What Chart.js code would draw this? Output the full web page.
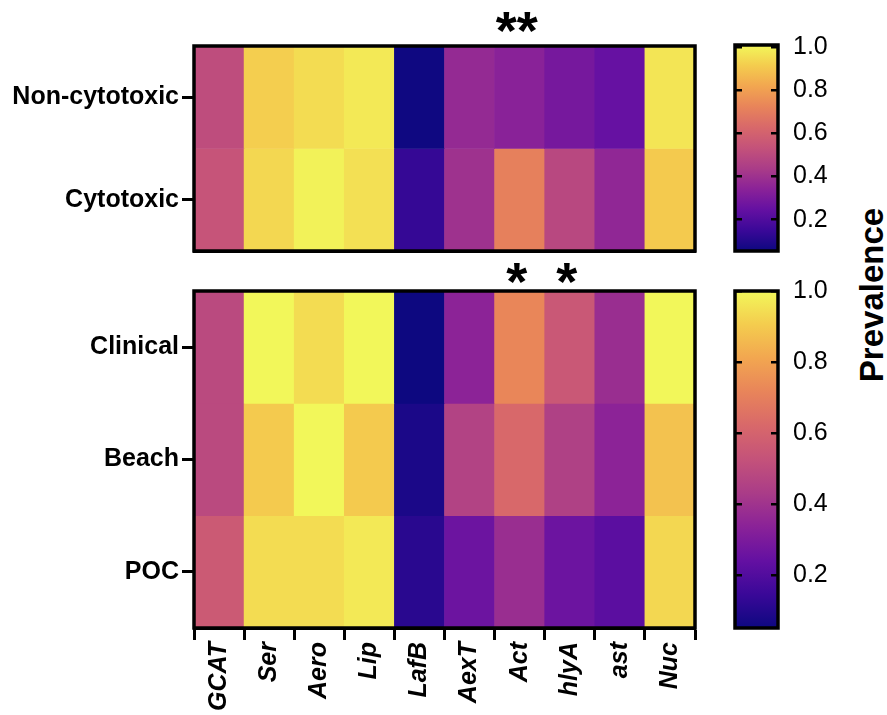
<!DOCTYPE html>
<html>
<head>
<meta charset="utf-8">
<script src="https://cdn.jsdelivr.net/npm/chart.js@4.4.1/dist/chart.umd.min.js"></script>
<style>
  body { margin: 0; background: #fff; }
  #wrap { position: relative; width: 887px; height: 715px; overflow: hidden; font-family: "Liberation Sans", Arial, sans-serif; }
  .box { position: absolute; }
  #prev { position: absolute; left: 872px; top: 295px; transform: translate(-50%, -50%) rotate(-90deg);
          font-weight: bold; font-size: 33px; white-space: nowrap; color: #000; }
</style>
</head>
<body>
<div id="wrap">
  <div class="box" style="left:0;top:0;width:720px;height:262px"><canvas id="topHeat"></canvas></div>
  <div class="box" style="left:0;top:262px;width:720px;height:453px"><canvas id="bottomHeat"></canvas></div>
  <div class="box" style="left:720px;top:0;width:130px;height:262px"><canvas id="topBar"></canvas></div>
  <div class="box" style="left:720px;top:262px;width:130px;height:400px"><canvas id="bottomBar"></canvas></div>
  <div id="prev">Prevalence</div>
</div>
<script>
// genes on the x axis
const genes = ['GCAT', 'Ser', 'Aero', 'Lip', 'LafB', 'AexT', 'Act', 'hlyA', 'ast', 'Nuc'];

// top panel: cytotoxicity
const toxGroups = ['Non-cytotoxic', 'Cytotoxic'];
const nonCytotoxic = [0.51, 0.92, 0.95, 0.98, 0.06, 0.37, 0.34, 0.29, 0.25, 0.97];
const cytotoxic    = [0.54, 0.94, 1.00, 0.96, 0.14, 0.40, 0.71, 0.49, 0.36, 0.91];
const toxStars = ['', '', '', '', '', '', '**', '', '', ''];

// bottom panel: source
const sourceGroups = ['Clinical', 'Beach', 'POC'];
const clinical = [0.49, 1.00, 0.94, 1.00, 0.05, 0.34, 0.72, 0.55, 0.38, 1.00];
const beach    = [0.49, 0.90, 1.00, 0.90, 0.08, 0.46, 0.62, 0.45, 0.34, 0.88];
const poc      = [0.56, 0.94, 0.94, 0.97, 0.11, 0.26, 0.38, 0.26, 0.22, 0.93];
const sourceStars = ['', '', '', '', '', '', '*', '*', '', ''];

// colour bars
const barTicks = [0.2, 0.4, 0.6, 0.8, 1.0];
const topRange = [0.055, 1.01];
const bottomRange = [0.05, 1.0];

// plasma-like colour stops
const stops = ['#0d0880', '#3a0898', '#6410a2', '#8a2298', '#aa3c88', '#c4527a',
               '#d8686a', '#e8845a', '#f2a650', '#f4cc4e', '#f2f75a'];

Chart.defaults.font.family = '"Liberation Sans", Arial, sans-serif';
Chart.defaults.color = '#000';
Chart.defaults.animation = false;

function hex(c) {
  return [parseInt(c.slice(1, 3), 16), parseInt(c.slice(3, 5), 16), parseInt(c.slice(5, 7), 16)];
}

function plasma(v, range) {
  let t = (v - range[0]) / (range[1] - range[0]);
  t = Math.max(0, Math.min(1, t));
  const p = t * (stops.length - 1);
  const i = Math.min(Math.floor(p), stops.length - 2);
  const f = p - i;
  const a = hex(stops[i]), b = hex(stops[i + 1]);
  const c = a.map((x, k) => Math.round(x + (b[k] - x) * f));
  return 'rgb(' + c.join(',') + ')';
}

const boxPlugin = {
  id: 'box',
  afterDraw(chart) {
    const a = chart.chartArea, ctx = chart.ctx;
    ctx.save();
    ctx.lineWidth = 3.5;
    ctx.strokeStyle = '#000';
    ctx.strokeRect(a.left, a.top, a.right - a.left, a.bottom - a.top);
    ctx.restore();
  }
};

const starPlugin = {
  id: 'stars',
  afterDraw(chart, args, opts) {
    if (!opts.labels) return;
    const ctx = chart.ctx, x = chart.scales.x;
    ctx.save();
    ctx.font = 'bold ' + opts.size + 'px "Liberation Sans", Arial, sans-serif';
    ctx.fillStyle = '#000';
    ctx.textAlign = 'center';
    ctx.textBaseline = 'alphabetic';
    opts.labels.forEach((s, i) => {
      if (!s) return;
      const m = ctx.measureText(s);
      const base = chart.chartArea.top - opts.gap + (m.actualBoundingBoxAscent - m.actualBoundingBoxDescent) / 2;
      ctx.fillText(s, x.getPixelForTick(i) - 3, base);
    });
    ctx.restore();
  }
};

// drop the extra room Chart.js keeps for half-height labels
function noLabelPadding(scale) {
  scale.paddingTop = 0;
  scale.paddingBottom = 0;
}

function heatmap(id, rows, rowLabels, stars, range, padding, showX, starGap) {
  const datasets = rows.map((vals, r) => ({
    label: rowLabels[r],
    data: vals.map(() => [r, r + 1]),
    backgroundColor: vals.map(v => plasma(v, range)),
    borderWidth: 0,
    barPercentage: 1,
    categoryPercentage: 1,
    grouped: false
  }));
  return new Chart(document.getElementById(id), {
    type: 'bar',
    data: { labels: genes, datasets: datasets },
    options: {
      responsive: true,
      maintainAspectRatio: false,
      layout: { padding: padding },
      plugins: {
        legend: { display: false },
        tooltip: { enabled: false },
        stars: { labels: stars, size: 54, gap: starGap }
      },
      scales: {
        x: {
          offset: true,
          grid: { display: showX, drawOnChartArea: false, drawTicks: showX, tickLength: 12, tickWidth: 3, tickColor: '#000' },
          border: { display: true, width: 3, color: '#000' },
          ticks: {
            display: showX,
            autoSkip: false,
            minRotation: 90,
            maxRotation: 90,
            padding: 2,
            font: { size: 25, weight: 'bold', style: 'italic' }
          },
          afterFit(scale) { scale.height = showX ? 87 : 0; }
        },
        y: {
          type: 'linear',
          min: 0,
          max: rows.length,
          reverse: true,
          grid: { drawOnChartArea: false, drawTicks: true, tickLength: 12, tickWidth: 3, tickColor: '#000' },
          border: { display: true, width: 3, color: '#000' },
          afterBuildTicks(scale) {
            scale.ticks = rowLabels.map((_, i) => ({ value: i + 0.5 }));
          },
          ticks: {
            autoSkip: false,
            padding: 3,
            font: { size: 25, weight: 'bold' },
            callback: (v, i) => rowLabels[i]
          },
          afterFit(scale) {
            scale.width = 194;
            noLabelPadding(scale);
          }
        }
      }
    },
    plugins: [boxPlugin, starPlugin]
  });
}

function colorBar(id, range, padding) {
  return new Chart(document.getElementById(id), {
    type: 'bar',
    data: {
      labels: ['Prevalence'],
      datasets: [{
        data: [range],
        barPercentage: 1,
        categoryPercentage: 1,
        borderWidth: 0,
        backgroundColor(ctx) {
          const chart = ctx.chart;
          if (!chart.chartArea) return null;
          const y = chart.scales.y;
          const g = chart.ctx.createLinearGradient(0, y.getPixelForValue(range[0]), 0, y.getPixelForValue(range[1]));
          stops.forEach((c, i) => g.addColorStop(i / (stops.length - 1), c));
          return g;
        }
      }]
    },
    options: {
      responsive: true,
      maintainAspectRatio: false,
      layout: { padding: padding },
      plugins: { legend: { display: false }, tooltip: { enabled: false } },
      scales: {
        x: { display: false },
        y: {
          position: 'right',
          min: range[0],
          max: range[1],
          grid: { z: 1, drawOnChartArea: true, drawTicks: false, color: '#000', lineWidth: 2.5 },
          border: { display: false, dash: [7, 29] },
          afterBuildTicks(scale) {
            scale.ticks = barTicks.map(v => ({ value: v }));
          },
          ticks: {
            padding: 15,
            font: { size: 25 },
            callback: v => v.toFixed(1)
          },
          afterFit(scale) {
            scale.width = 130 - 15 - 43;
            noLabelPadding(scale);
          }
        }
      }
    },
    plugins: [boxPlugin]
  });
}

heatmap('topHeat', [nonCytotoxic, cytotoxic], toxGroups, toxStars, topRange,
        { top: 46, right: 25, bottom: 11, left: 0 }, false, 24);
heatmap('bottomHeat', [clinical, beach, poc], sourceGroups, sourceStars, bottomRange,
        { top: 29, right: 25, bottom: 0, left: 0 }, true, 18);
colorBar('topBar', topRange, { top: 45, right: 0, bottom: 11, left: 15 });
colorBar('bottomBar', bottomRange, { top: 29, right: 0, bottom: 34, left: 15 });
</script>
</body>
</html>
